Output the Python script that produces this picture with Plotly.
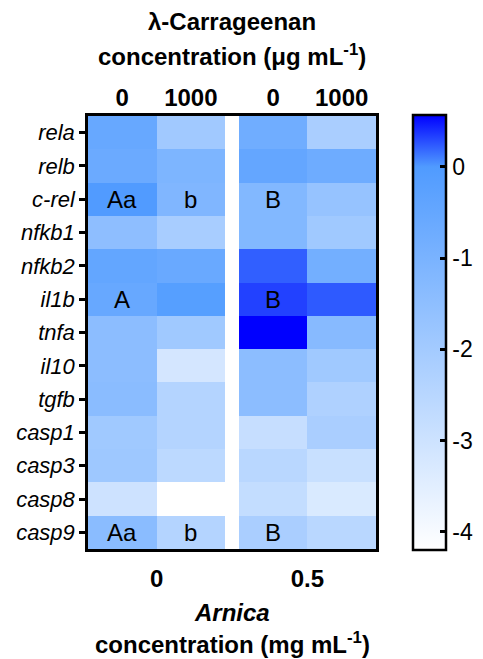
import plotly.graph_objects as go

genes = ["rela", "relb", "c-rel", "nfkb1", "nfkb2", "il1b", "tnfa",
         "il10", "tgfb", "casp1", "casp3", "casp8", "casp9"]
carr_labels = ["0", "1000", "0", "1000"]
arnica_labels = ["0", "0.5"]

# values per column (Arnica 0: Carr 0, Carr 1000 ; Arnica 0.5: Carr 0, Carr 1000)
arn0_carr0 = [-0.55, -0.65, -0.02, -1.48, -0.45, -0.55, -1.44, -1.44, -1.40, -1.92, -1.87, -3.00, -1.40]
arn0_carr1000 = [-1.95, -1.08, -1.15, -2.12, -0.60, -0.15, -1.92, -3.17, -2.40, -2.40, -2.60, -4.20, -2.40]
arn05_carr0 = [-0.77, -0.48, -1.20, -1.20, 0.22, 0.33, 0.57, -1.44, -1.44, -2.83, -2.52, -2.76, -2.16]
arn05_carr1000 = [-2.16, -0.72, -1.68, -1.92, -0.84, 0.24, -1.32, -1.92, -2.28, -2.16, -2.88, -3.30, -2.52]

letters = [("c-rel", 0, "Aa"), ("c-rel", 1, "b"), ("c-rel", 2, "B"),
           ("il1b", 0, "A"), ("il1b", 2, "B"),
           ("casp9", 0, "Aa"), ("casp9", 1, "b"), ("casp9", 2, "B")]

cb_ticks = [-4, -3, -2, -1, 0]
ZMIN, ZMAX = -4.2, 0.57

FONT = "Liberation Sans, Arial, sans-serif"

# the page body adds an 8 px offset; target positions are in window pixels
OFF = 8
W, H = 483 - OFF, 659 - OFF
PL, PR, PT, PB = 88, 376, 116, 549        # plot box in window pixels
ML, MT = PL - OFF, PT - OFF
MR, MB = W - (PR - OFF), H - (PB - OFF)
PW, PH = W - ML - MR, H - MT - MB

def py(pix):
    """window pixel row -> paper y"""
    return (PB - pix) / PH

# geometry in data units: 4 columns of width 1, a gap between the pairs
GAP = 0.2
col_left = [0, 1, 2 + GAP, 3 + GAP]
col_centers = [c + 0.5 for c in col_left]
x_edges = [0, 1, 2, 2 + GAP, 3 + GAP, 4 + GAP]
XMAX = 4 + GAP

cols = [arn0_carr0, arn0_carr1000, arn05_carr0, arn05_carr1000]
z = []
for i in range(len(genes)):
    z.append([cols[0][i], cols[1][i], None, cols[2][i], cols[3][i]])

def frac(v):
    return (v - ZMIN) / (ZMAX - ZMIN)

colorscale = [
    [0.0, "rgb(255,255,255)"],
    [frac(0), "rgb(80,155,255)"],
    [1.0, "rgb(0,0,255)"],
]

yidx = list(range(len(genes)))
CB_X = (413 - PL) / PW
CB_LEN = 435

fig = go.Figure()
fig.add_trace(go.Heatmap(
    z=z, x=x_edges, y=yidx,
    zmin=ZMIN, zmax=ZMAX, colorscale=colorscale,
    hoverongaps=False,
    colorbar=dict(
        x=CB_X, xanchor="left", xpad=0, ypad=0,
        y=0.5, yanchor="middle", len=CB_LEN, lenmode="pixels",
        thickness=33, outlinewidth=2.5, outlinecolor="black",
        tickvals=cb_ticks, ticktext=[str(t) for t in cb_ticks],
        ticks="inside", ticklen=7, tickwidth=2.5, tickcolor="black",
        tickfont=dict(family=FONT, size=23, color="black"),
    ),
))
# invisible trace for top axis
fig.add_trace(go.Scatter(x=[0, XMAX], y=[0, 0], xaxis="x2", mode="markers",
                         marker=dict(opacity=0), hoverinfo="skip", showlegend=False))

for gene, ci, txt in letters:
    fig.add_annotation(x=col_centers[ci], y=genes.index(gene), text=txt,
                       showarrow=False, font=dict(family=FONT, size=24, color="black"))

tfont = dict(family=FONT, size=24, color="black")
mid_x = 0.5
fig.add_annotation(xref="paper", yref="paper", x=mid_x, y=py(22), yanchor="middle",
                   text="<b>λ-Carrageenan</b>", showarrow=False, font=tfont)
fig.add_annotation(xref="paper", yref="paper", x=mid_x, y=py(55), yanchor="middle",
                   text="<b>concentration (μg mL<sup>-1</sup>)</b>", showarrow=False, font=tfont)
fig.add_annotation(xref="paper", yref="paper", x=mid_x, y=py(612), yanchor="middle",
                   text="<b><i>Arnica</i></b>", showarrow=False, font=tfont)
fig.add_annotation(xref="paper", yref="paper", x=mid_x, y=py(643), yanchor="middle",
                   text="<b>concentration (mg mL<sup>-1</sup>)</b>", showarrow=False, font=tfont)

fig.update_layout(
    width=W, height=H,
    margin=dict(l=ML, r=MR, t=MT, b=MB, autoexpand=False),
    paper_bgcolor="white", plot_bgcolor="white",
    showlegend=False,
    xaxis=dict(
        range=[0, XMAX], showgrid=False, zeroline=False, automargin=False,
        showline=True, mirror=True, linewidth=2.5, linecolor="black",
        tickvals=[(col_left[0] + col_left[1] + 1) / 2, (col_left[2] + col_left[3] + 1) / 2],
        ticktext=["<b>%s</b>" % t for t in arnica_labels],
        ticks="", ticklabelstandoff=6,
        tickfont=dict(family=FONT, size=24, color="black"),
    ),
    xaxis2=dict(
        range=[0, XMAX], overlaying="x", side="top", showgrid=False, zeroline=False,
        automargin=False,
        showline=False, tickvals=col_centers,
        ticktext=["<b>%s</b>" % t for t in carr_labels],
        ticks="", ticklabelstandoff=4,
        tickfont=dict(family=FONT, size=24, color="black"),
    ),
    yaxis=dict(
        range=[len(genes) - 0.5, -0.5], showgrid=False, zeroline=False, automargin=False,
        showline=True, mirror=True, linewidth=2.5, linecolor="black",
        tickvals=yidx, ticktext=["<i>%s</i>" % g for g in genes],
        ticks="outside", ticklen=6, tickwidth=2.5, tickcolor="black",
        tickfont=dict(family=FONT, size=22, color="black"),
    ),
)

# left-side inner tick marks of the colorbar, placed from the colorbar scale
bar_len = CB_LEN / PH
bar_bottom = 0.5 - bar_len / 2
x_left = CB_X + 1.25 / PW
for t in cb_ticks:
    yp = bar_bottom + frac(t) * bar_len
    fig.add_shape(type="line", xref="paper", yref="paper",
                  x0=x_left, x1=x_left + 7 / PW, y0=yp, y1=yp,
                  line=dict(color="black", width=2.5))

fig.write_html("out.html")
